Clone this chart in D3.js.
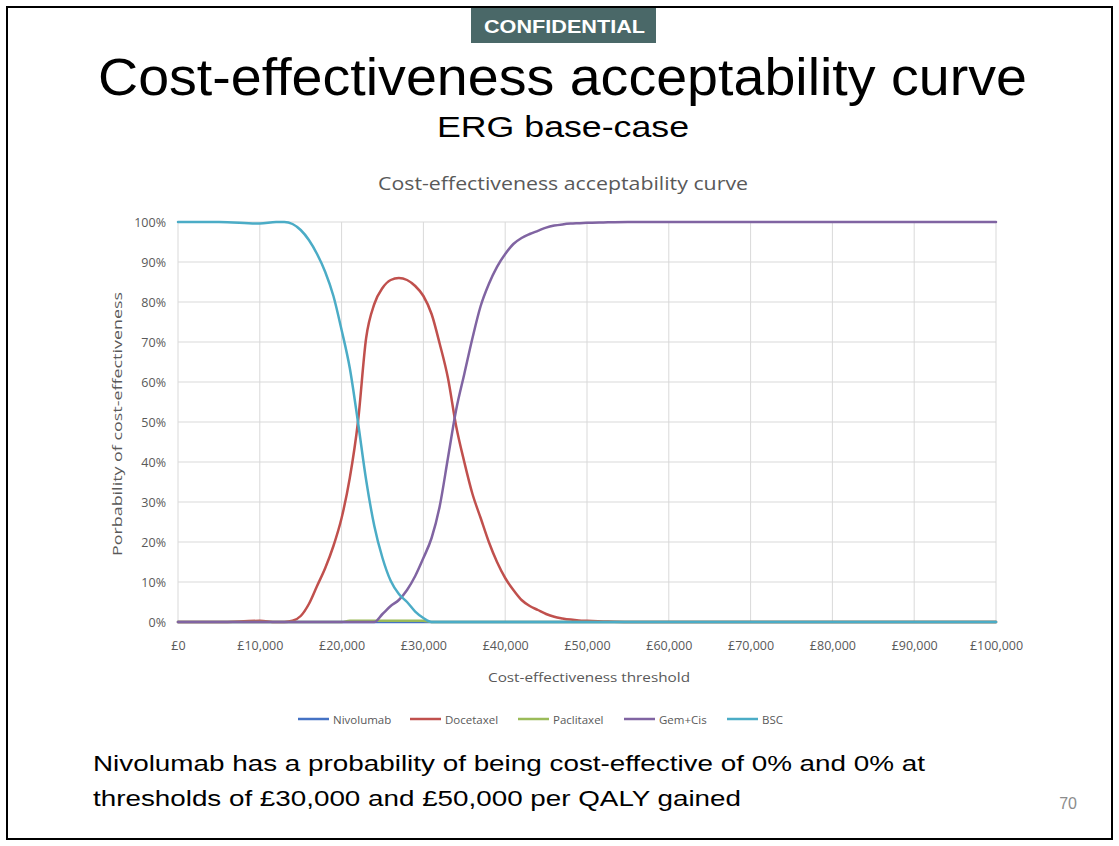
<!DOCTYPE html>
<html>
<head>
<meta charset="utf-8">
<script src="https://cdn.jsdelivr.net/npm/d3@7"></script>
<style>
  html, body { margin: 0; padding: 0; background: #ffffff; }
  svg { display: block; }
</style>
</head>
<body>
<svg id="slide" width="1119" height="846"></svg>
<script>
// Willingness-to-pay thresholds (£ per QALY gained)
const thresholds = [0, 5000, 10000, 12000, 13000, 14000, 15000, 16000, 17000, 18000, 19000, 20000,
  21000, 22000, 23000, 24000, 25000, 26000, 27000, 28000, 29000, 30000, 31000, 32000, 33000, 34000,
  35000, 36000, 37000, 38000, 39000, 40000, 41000, 42000, 43000, 44000, 45000, 46000, 47000, 48000,
  49000, 50000, 52000, 55000, 60000, 70000, 80000, 90000, 100000];

// Probability of being cost-effective (%) for each treatment
const nivolumab = [0, 0, 0, 0, 0, 0, 0, 0, 0, 0, 0, 0,
  0, 0, 0, 0, 0, 0, 0, 0, 0, 0, 0, 0, 0, 0,
  0, 0, 0, 0, 0, 0, 0, 0, 0, 0, 0, 0, 0, 0,
  0, 0, 0, 0, 0, 0, 0, 0, 0];
const docetaxel = [0, 0, 0.3, 0, 0, 0.3, 1.5, 4.5, 9, 13.5, 19, 26,
  36, 50, 71, 79.5, 83.5, 85.5, 86, 85.5, 84, 81.5, 77, 69.5, 61, 49,
  40, 32, 26, 20, 15, 11, 8, 5.5, 4, 3, 2, 1.3, 0.9, 0.6,
  0.4, 0.3, 0.15, 0, 0, 0, 0, 0, 0];
const paclitaxel = [0, 0, 0, 0, 0, 0, 0, 0, 0, 0, 0, 0,
  0.3, 0.3, 0.3, 0.3, 0.3, 0.3, 0.3, 0.3, 0.3, 0.3, 0, 0, 0, 0,
  0, 0, 0, 0, 0, 0, 0, 0, 0, 0, 0, 0, 0, 0,
  0, 0, 0, 0, 0, 0, 0, 0, 0];
const gemCis = [0, 0, 0, 0, 0, 0, 0, 0, 0, 0, 0, 0,
  0, 0, 0, 0, 2, 4, 5.5, 8, 11.5, 16, 21, 29, 41, 53,
  62, 71, 79, 84.5, 88.8, 92, 94.5, 96, 97, 97.8, 98.6, 99.1, 99.4, 99.6,
  99.7, 99.8, 99.9, 100, 100, 100, 100, 100, 100];
const bsc = [100, 100, 99.6, 100, 100, 99.5, 98, 95.5, 92, 87.5, 81.5, 73,
  63.5, 50, 35.5, 24, 16, 10.3, 7, 5, 2.6, 1, 0, 0, 0, 0,
  0, 0, 0, 0, 0, 0, 0, 0, 0, 0, 0, 0, 0, 0,
  0, 0, 0, 0, 0, 0, 0, 0, 0];

const seriesNames = ["Nivolumab", "Docetaxel", "Paclitaxel", "Gem+Cis", "BSC"];
const seriesValues = [nivolumab, docetaxel, paclitaxel, gemCis, bsc];
const seriesColors = ["#4472c4", "#c0504d", "#9bbb59", "#8064a2", "#4bacc6"];

const xTicks = [0, 10000, 20000, 30000, 40000, 50000, 60000, 70000, 80000, 90000, 100000];
const yTicks = [0, 10, 20, 30, 40, 50, 60, 70, 80, 90, 100];

const svg = d3.select("#slide");
const chartFont = "'Open Sans', Lato, sans-serif";
const slideFont = "'Liberation Sans', Arial, sans-serif";

// Slide frame
svg.append("rect")
  .attr("x", 7).attr("y", 7).attr("width", 1105).attr("height", 832)
  .attr("fill", "#ffffff").attr("stroke", "#000000").attr("stroke-width", 2);

// Confidential banner
svg.append("rect")
  .attr("x", 471).attr("y", 8).attr("width", 185).attr("height", 35)
  .attr("fill", "#4a6868");
svg.append("text")
  .attr("x", 484).attr("y", 32.5)
  .attr("font-family", slideFont).attr("font-weight", "bold").attr("font-size", 19)
  .attr("textLength", 161).attr("lengthAdjust", "spacingAndGlyphs")
  .attr("fill", "#ffffff")
  .text("CONFIDENTIAL");

// Slide titles
svg.append("text")
  .attr("x", 98).attr("y", 95)
  .attr("font-family", slideFont).attr("font-size", 51)
  .attr("textLength", 929).attr("lengthAdjust", "spacingAndGlyphs")
  .attr("fill", "#000000")
  .text("Cost-effectiveness acceptability curve");
svg.append("text")
  .attr("x", 437).attr("y", 137)
  .attr("font-family", slideFont).attr("font-size", 29)
  .attr("textLength", 252).attr("lengthAdjust", "spacingAndGlyphs")
  .attr("fill", "#000000")
  .text("ERG base-case");

// Chart title
svg.append("text")
  .attr("x", 378).attr("y", 190)
  .attr("font-family", chartFont).attr("font-size", 17.5)
  .attr("textLength", 370).attr("lengthAdjust", "spacingAndGlyphs")
  .attr("fill", "#595959")
  .text("Cost-effectiveness acceptability curve");

// Scales
const x = d3.scaleLinear().domain([0, 100000]).range([178, 996]);
const y = d3.scaleLinear().domain([0, 100]).range([622, 222]);

// Gridlines
const grid = svg.append("g");
grid.selectAll("line.h").data(yTicks).join("line")
  .attr("x1", x(0)).attr("x2", x(100000))
  .attr("y1", d => y(d)).attr("y2", d => y(d))
  .attr("stroke", "#d9d9d9").attr("stroke-width", 1);
grid.selectAll("line.v").data(xTicks).join("line")
  .attr("x1", d => x(d)).attr("x2", d => x(d))
  .attr("y1", y(0)).attr("y2", y(100))
  .attr("stroke", "#d9d9d9").attr("stroke-width", 1);

// Axes (labels only; no tick marks)
const fmtMoney = d => "£" + d3.format(",")(d);
const xAxis = svg.append("g")
  .attr("transform", `translate(0,${y(0)})`)
  .call(d3.axisBottom(x).tickValues(xTicks).tickFormat(fmtMoney).tickSize(0).tickPadding(19));
const yAxis = svg.append("g")
  .attr("transform", `translate(${x(0)},0)`)
  .call(d3.axisLeft(y).tickValues(yTicks).tickFormat(d => d + "%").tickSize(0).tickPadding(12));
[xAxis, yAxis].forEach(g => {
  g.select(".domain").remove();
  g.selectAll("text")
    .attr("font-family", chartFont).attr("font-size", 12.5)
    .attr("fill", "#595959");
});

// Series lines
const line = d3.line()
  .x((d, i) => x(thresholds[i]))
  .y(d => y(d))
  .curve(d3.curveMonotoneX);

svg.append("g").selectAll("path")
  .data(seriesValues)
  .join("path")
  .attr("d", d => line(d))
  .attr("fill", "none")
  .attr("stroke", (d, i) => seriesColors[i])
  .attr("stroke-width", 2.5)
  .attr("stroke-linejoin", "round")
  .attr("stroke-linecap", "round");

// Axis titles
svg.append("text")
  .attr("x", 488).attr("y", 682)
  .attr("font-family", chartFont).attr("font-size", 13)
  .attr("textLength", 202).attr("lengthAdjust", "spacingAndGlyphs")
  .attr("fill", "#595959")
  .text("Cost-effectiveness threshold");
svg.append("text")
  .attr("transform", "translate(122,556) rotate(-90)")
  .attr("font-family", chartFont).attr("font-size", 13.5)
  .attr("textLength", 264).attr("lengthAdjust", "spacingAndGlyphs")
  .attr("fill", "#595959")
  .text("Porbability of cost-effectiveness");

// Legend
const legendX = [298, 410, 518, 624, 727];
const legend = svg.append("g");
seriesNames.forEach((name, i) => {
  legend.append("line")
    .attr("x1", legendX[i]).attr("x2", legendX[i] + 31)
    .attr("y1", 719).attr("y2", 719)
    .attr("stroke", seriesColors[i]).attr("stroke-width", 2.5);
  legend.append("text")
    .attr("x", legendX[i] + 35).attr("y", 723.5)
    .attr("font-family", chartFont).attr("font-size", 11.5)
    .attr("fill", "#595959")
    .text(name);
});

// Footnote
const foot = svg.append("text")
  .attr("font-family", slideFont).attr("font-size", 22.5)
  .attr("fill", "#000000");
foot.append("tspan").attr("x", 93).attr("y", 771)
  .attr("textLength", 832).attr("lengthAdjust", "spacingAndGlyphs")
  .text("Nivolumab has a probability of being cost-effective of 0% and 0% at");
foot.append("tspan").attr("x", 93).attr("y", 806)
  .attr("textLength", 648).attr("lengthAdjust", "spacingAndGlyphs")
  .text("thresholds of £30,000 and £50,000 per QALY gained");

// Page number
svg.append("text")
  .attr("x", 1077).attr("y", 809)
  .attr("text-anchor", "end")
  .attr("font-family", slideFont).attr("font-size", 16)
  .attr("fill", "#8c8c8c")
  .text("70");
</script>
</body>
</html>
